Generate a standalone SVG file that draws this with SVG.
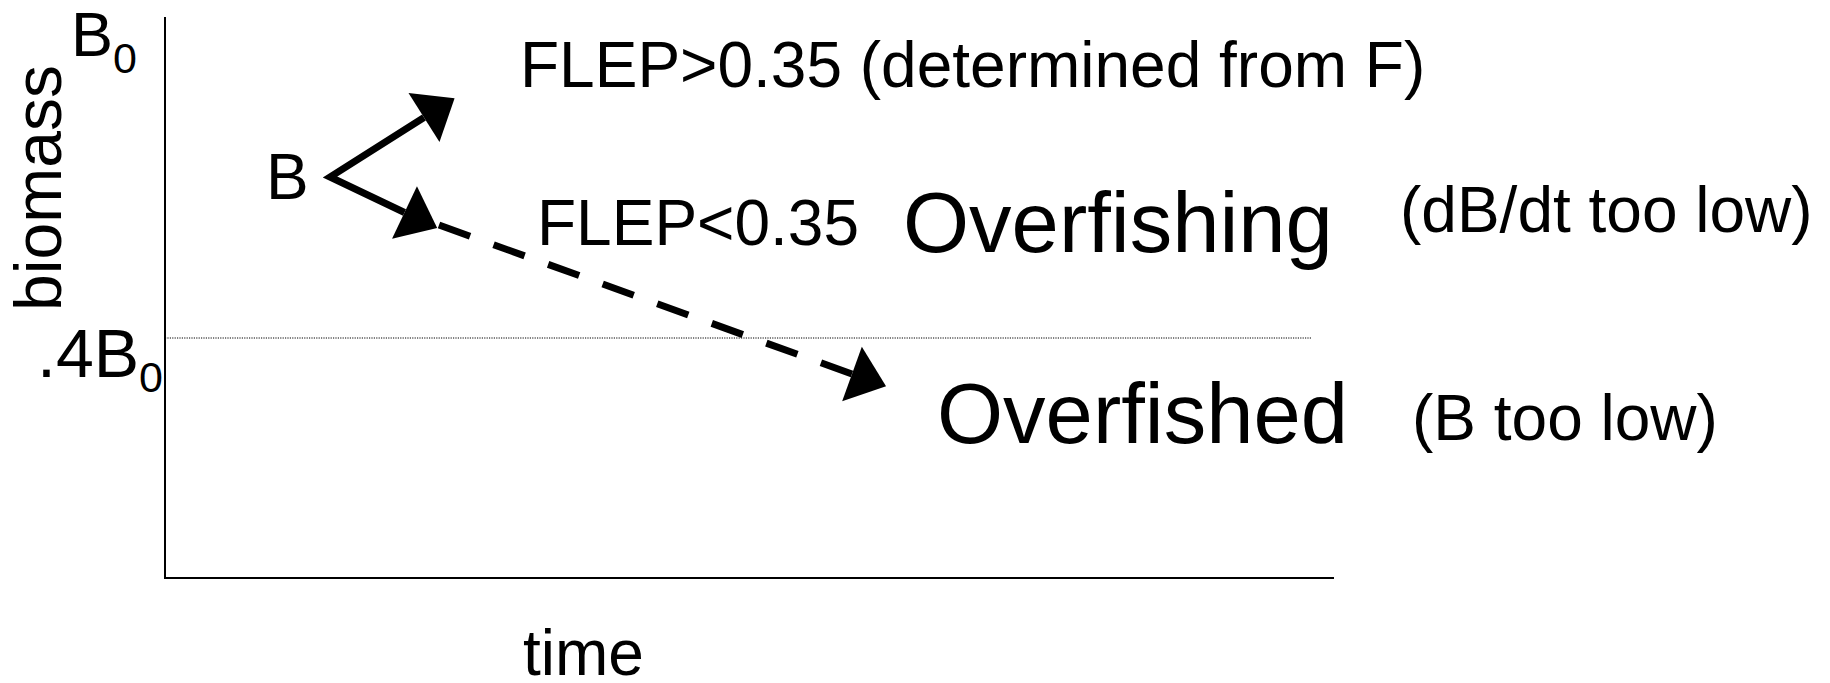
<svg xmlns="http://www.w3.org/2000/svg" width="1830" height="683" viewBox="0 0 1830 683">
  <style>
    text { font-family: "Liberation Sans", Arial, sans-serif; fill: #000; }
    .lbl { font-size: 64px; }
    .big { font-size: 85px; }
    .axis { stroke: #000; stroke-width: 2; fill: none; }
    .ref { stroke: #000; stroke-width: 1; stroke-dasharray: 1.2 1.2; fill: none; }
    .path { stroke: #000; stroke-width: 7; fill: none; stroke-linejoin: miter; }
    .dash { stroke-dasharray: 33 25; }
  </style>
  <defs>
    <marker id="head" markerUnits="userSpaceOnUse" markerWidth="40" markerHeight="60"
            viewBox="0 -29 36 58" refX="0" refY="0" orient="auto-start-reverse">
      <path d="M0,-28 L35,0 L0,28 Z" fill="#000"/>
    </marker>
  </defs>

  <rect width="1830" height="683" fill="#fff"/>

  <!-- axes and the 0.4 B0 reference level -->
  <g id="axes">
    <path class="axis" d="M165,17 V578 H1334"/>
    <line class="ref" x1="165" y1="338" x2="1312" y2="338"/>
  </g>

  <!-- axis labels -->
  <g id="axis-labels">
    <text x="71" y="56" style="font-size:63px">B<tspan style="font-size:43px" dy="17">0</tspan></text>
    <text x="37" y="377" style="font-size:68px">.4B<tspan style="font-size:43px" dy="15">0</tspan></text>
    <text transform="translate(61,188) rotate(-90)" text-anchor="middle" style="font-size:66px">biomass</text>
    <text class="lbl" x="523" y="675">time</text>
  </g>

  <!-- trajectories from the current biomass -->
  <g id="connectors">
    <path class="path" d="M424,117.5 L330,177 L404.5,212.5" marker-start="url(#head)" marker-end="url(#head)"/>
    <path class="path dash" d="M439,225 L852,374" marker-end="url(#head)"/>
  </g>

  <g id="node-b">
    <text class="lbl" x="266" y="199">B</text>
  </g>
  <g id="node-flep-high">
    <text class="lbl" x="520" y="87">FLEP&gt;0.35 (determined from F)</text>
  </g>
  <g id="node-flep-low">
    <text class="lbl" x="537" y="245">FLEP&lt;0.35</text>
  </g>
  <g id="node-overfishing">
    <text class="big" x="903" y="252">Overfishing</text>
    <text class="lbl" x="1400" y="232">(dB/dt too low)</text>
  </g>
  <g id="node-overfished">
    <text class="big" x="937" y="443">Overfished</text>
    <text class="lbl" x="1412" y="440">(B too low)</text>
  </g>
</svg>
